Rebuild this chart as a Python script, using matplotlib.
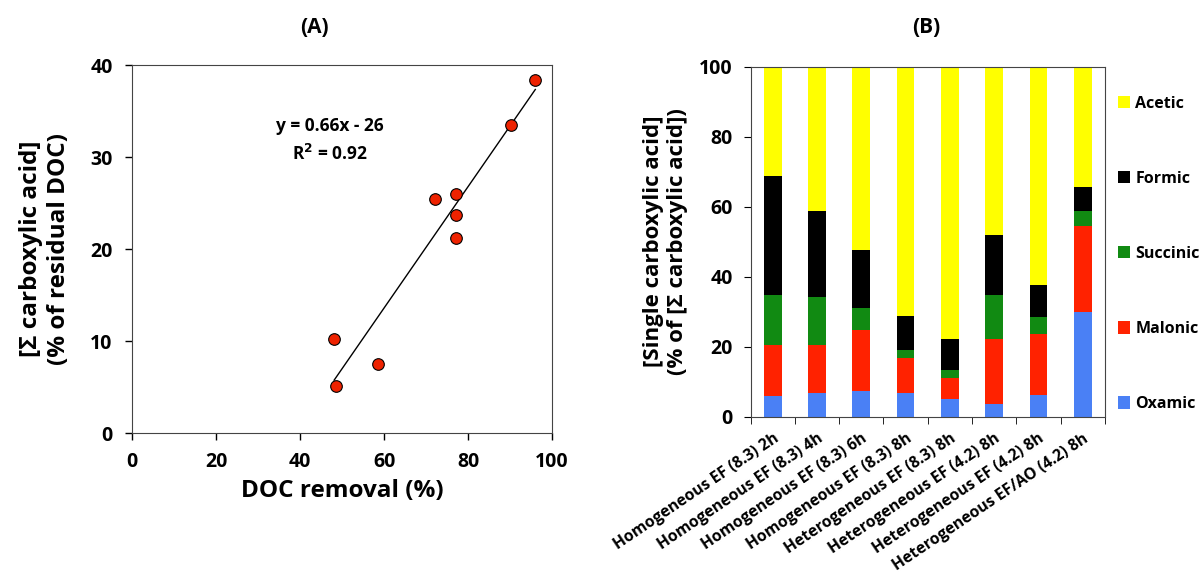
import numpy as np
import matplotlib
matplotlib.use("Agg")
import matplotlib.pyplot as plt

plt.rcParams['font.family'] = ['Open Sans', 'DejaVu Sans']
plt.rcParams['font.weight'] = 'bold'

# panel A data
doc_removal = [48.1, 48.6, 58.6, 72.1, 77.1, 77.1, 77.1, 90.2, 96.0]
sum_acid = [10.2, 5.1, 7.5, 25.5, 26.0, 23.7, 21.2, 33.5, 38.4]
slope = 0.66
intercept = -26

# panel B data
conditions = ['Homogeneous EF (8.3) 2h', 'Homogeneous EF (8.3) 4h', 'Homogeneous EF (8.3) 6h',
              'Homogeneous EF (8.3) 8h', 'Heterogeneous EF (8.3) 8h', 'Heterogeneous EF (4.2) 8h',
              'Heterogeneous EF (4.2) 8h', 'Heterogeneous EF/AO (4.2) 8h']
acids = ['Oxamic', 'Malonic', 'Succinic', 'Formic', 'Acetic']
oxamic = [5.9, 6.9, 7.2, 6.9, 5.0, 3.6, 6.2, 30.0]
malonic = [14.5, 13.5, 17.7, 10.0, 6.1, 18.7, 17.4, 24.5]
succinic = [14.4, 13.7, 6.1, 2.1, 2.2, 12.4, 4.8, 4.4]
formic = [34.1, 24.8, 16.6, 9.7, 9.0, 17.1, 9.2, 6.6]
acetic = [31.1, 41.1, 52.4, 71.3, 77.7, 48.2, 62.4, 34.5]
colors = ['#4a80f5', '#ff2200', '#118a12', '#000000', '#ffff00']

fig = plt.figure(figsize=(12.01, 5.72), dpi=100)

# ---- (A)
ax1 = fig.add_axes([0.110, 0.243, 0.3497, 0.643])
ax1.scatter(doc_removal, sum_acid, s=70, color='#ee2200', edgecolor='black', linewidth=0.8, zorder=3)
xs = np.array([min(doc_removal), max(doc_removal)])
ax1.plot(xs, slope * xs + intercept, color='black', lw=1.0)
ax1.text(47.1, 33.4, 'y = 0.66x - 26', ha='center', va='center', fontsize=12.5, fontweight='bold')
ax1.text(47.1, 30.4, 'R$^{\\mathbf{2}}$ = 0.92', ha='center', va='center', fontsize=12.5, fontweight='bold')
ax1.set_xlim(0, 100)
ax1.set_ylim(0, 40)
ax1.set_xticks(range(0, 101, 20))
ax1.set_yticks(range(0, 41, 10))
ax1.tick_params(direction='out', length=5, labelsize=14, width=1, pad=9)
for lab in ax1.get_xticklabels() + ax1.get_yticklabels():
    lab.set_fontweight('bold')
ax1.set_xlabel('DOC removal (%)', fontsize=17.5, fontweight='bold', labelpad=5)
ax1.set_ylabel('[Σ carboxylic acid]\n(% of residual DOC)', fontsize=17.5, fontweight='bold', labelpad=14)
for sp in ax1.spines.values():
    sp.set_color('#444444')
fig.text(0.262, 0.952, '(A)', ha='center', va='center', fontsize=15, fontweight='bold')

# ---- (B)
ax2 = fig.add_axes([0.625, 0.2715, 0.295, 0.612])
x = np.arange(len(conditions))
series = [oxamic, malonic, succinic, formic, acetic]
bottom = np.zeros(len(conditions))
handles = []
for name, vals, c in zip(acids, series, colors):
    h = ax2.bar(x, vals, width=0.4, bottom=bottom, color=c, label=name)
    handles.append(h)
    bottom += np.array(vals)
ax2.set_xlim(-0.5, len(conditions) - 0.5)
ax2.set_ylim(0, 100)
ax2.set_yticks(range(0, 101, 20))
ax2.set_xticks(x)
ax2.set_xticklabels(conditions, rotation=34, ha='right', rotation_mode='anchor', fontsize=11.3, fontweight='bold')
ax2.set_xticks(np.arange(-0.5, len(conditions)), minor=True)
ax2.tick_params(axis='x', which='major', length=0, pad=10)
ax2.tick_params(axis='x', which='minor', direction='out', length=5)
ax2.tick_params(axis='y', direction='out', length=5, labelsize=14, pad=8)
for lab in ax2.get_yticklabels():
    lab.set_fontweight('bold')
ax2.set_ylabel('[Single carboxylic acid]\n(% of [Σ carboxylic acid])', fontsize=16, fontweight='bold', labelpad=8)
for sp in ax2.spines.values():
    sp.set_color('#444444')
leg = ax2.legend(handles[::-1], acids[::-1], loc='center left', bbox_to_anchor=(1.0, 0.465), frameon=False,
                 handlelength=0.8, handleheight=0.8, labelspacing=3.7, handletextpad=0.3,
                 borderaxespad=0.4, prop={'weight': 'bold', 'size': 11.5})
fig.text(0.771, 0.952, '(B)', ha='center', va='center', fontsize=15, fontweight='bold')

fig.savefig('out.png', dpi=100)
